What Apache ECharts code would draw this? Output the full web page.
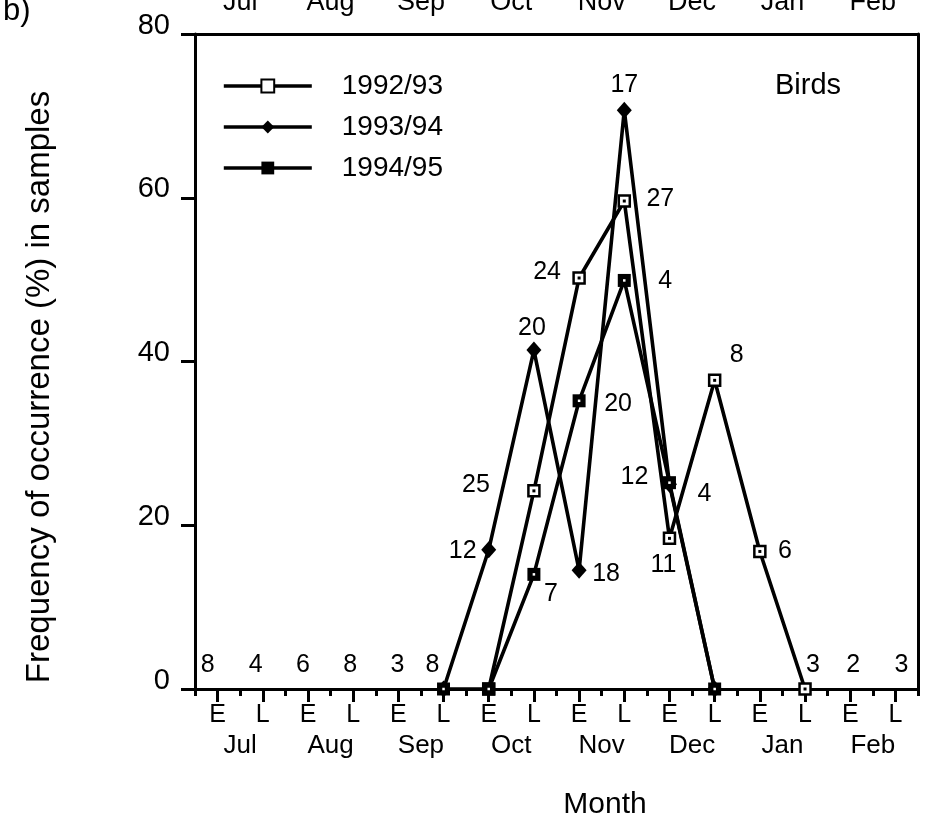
<!DOCTYPE html>
<html>
<head>
<meta charset="utf-8">
<script src="https://cdn.jsdelivr.net/npm/echarts@6/dist/echarts.min.js"></script>
<style>
  html, body { margin: 0; padding: 0; background: #fff; }
  #chart { width: 929px; height: 824px; }
</style>
</head>
<body>
<div id="chart"></div>
<script>
// Half-month sampling periods (Early / Late) from July to February
const periods = ['E', 'L', 'E', 'L', 'E', 'L', 'E', 'L', 'E', 'L', 'E', 'L', 'E', 'L', 'E', 'L'];
const months = ['Jul', 'Aug', 'Sep', 'Oct', 'Nov', 'Dec', 'Jan', 'Feb'];
const yTicks = [0, 20, 40, 60, 80];
const seasons = ['1992/93', '1993/94', '1994/95'];

// Frequency of occurrence (%) of birds in samples, per season
const freq9293 = [null, null, null, null, null, null, 0, 24.2, 50.2, 59.6, 18.4, 37.7, 16.8, 0, null, null];
const freq9394 = [null, null, null, null, null, 0, 17, 41.4, 14.5, 70.7, 25, 0, null, null, null, null];
const freq9495 = [null, null, null, null, null, 0, 0, 14, 35.2, 49.9, 25.2, 0, null, null, null, null];

// Number of samples written beside the points
const n9293 = [null, null, null, null, null, null, null, 25, 24, 27, 11, 8, 6, null, null, null];
const n9394 = [null, null, null, null, null, null, 12, 20, 18, 17, 4, null, null, null, null, null];
const n9495 = [null, null, null, null, null, null, null, 7, 20, 4, 12, null, null, null, null, null];

// Periods where birds were absent, with their sample counts
const absentFreq = [0, 0, 0, 0, 0, 0, null, null, null, null, null, null, null, 0, 0, 0];
const absentN = [8, 4, 6, 8, 3, 8, null, null, null, null, null, null, null, 3, 2, 3];

// Pixel shifts of the sample-count labels from their points
const labelShift = {
  '1992/93': { 7: [-58, -6], 8: [-32, -6], 9: [36, -2], 10: [-6, 27], 11: [22, -25], 12: [25, 0] },
  '1993/94': { 6: [-26, 1], 7: [-2, -22], 8: [27, 4], 9: [0, -25], 10: [35, 10] },
  '1994/95': { 7: [17, 20], 8: [39, 3], 9: [41, 1], 10: [-35, -6] }
};
const absentShift = { 0: -10, 1: -7, 2: -5, 3: -3, 4: -1, 5: -11, 13: 8, 14: 3, 15: 6 };

const FONT = '"Liberation Sans", Arial, Helvetica, sans-serif';
const INK = '#000';
const LINE_W = 3.6;

function withCounts(values, counts, shifts) {
  return values.map(function (v, i) {
    if (v == null) return null;
    const c = counts[i];
    return {
      value: v,
      label: c == null ? { show: false } : {
        show: true,
        formatter: String(c),
        offset: shifts[i] || [0, 0]
      }
    };
  });
}

const countLabel = {
  show: true,
  position: 'inside',
  color: INK,
  opacity: 1,
  textBorderWidth: 0,
  fontSize: 25,
  fontFamily: FONT
};

const chart = echarts.init(document.getElementById('chart'), null, { renderer: 'canvas' });

chart.setOption({
  animation: false,
  backgroundColor: '#fff',
  grid: { left: 195, right: 11, top: 34, bottom: 135, containLabel: false, outerBoundsMode: 'none' },
  legend: {
    data: seasons,
    orient: 'vertical',
    left: 222,
    top: 72,
    padding: 0,
    itemWidth: 88,
    itemHeight: 16,
    itemGap: 13,
    selectedMode: false,
    lineStyle: { width: LINE_W, color: INK },
    textStyle: { color: INK, fontSize: 28, fontFamily: FONT, lineHeight: 28, padding: [0, 0, 0, 25] }
  },
  xAxis: [
    {
      type: 'category', data: periods, position: 'bottom', boundaryGap: true,
      axisLine: { show: true, onZero: false, lineStyle: { color: INK, width: 3 } },
      axisTick: { show: true, alignWithLabel: true, length: 13, lineStyle: { color: INK, width: 3 } },
      axisLabel: { color: INK, fontSize: 25, fontFamily: FONT, margin: 14, interval: 0 },
      splitLine: { show: false }
    },
    {
      type: 'category', data: periods, position: 'bottom', boundaryGap: true,
      axisLine: { show: false, onZero: false },
      axisTick: { show: true, length: 7, interval: 0, lineStyle: { color: INK, width: 3 } },
      axisLabel: { show: false },
      splitLine: { show: false }
    },
    {
      type: 'category', data: months, position: 'bottom', boundaryGap: true,
      axisLine: { show: false, onZero: false },
      axisTick: { show: false },
      axisLabel: { color: INK, fontSize: 26, fontFamily: FONT, margin: 44, interval: 0 },
      splitLine: { show: false }
    },
    {
      type: 'category', data: months, position: 'top', boundaryGap: true,
      axisLine: { show: true, onZero: false, lineStyle: { color: INK, width: 3 } },
      axisTick: { show: false },
      axisLabel: { color: INK, fontSize: 27, fontFamily: FONT, margin: 18, interval: 0 },
      splitLine: { show: false }
    }
  ],
  yAxis: [
    {
      type: 'value', min: yTicks[0], max: yTicks[yTicks.length - 1], interval: 20,
      axisLine: { show: true, onZero: false, lineStyle: { color: INK, width: 3 } },
      axisTick: { show: true, length: 14, lineStyle: { color: INK, width: 3 } },
      axisLabel: { color: INK, fontSize: 29, fontFamily: FONT, margin: 25, verticalAlign: 'bottom', lineHeight: 17 },
      splitLine: { show: false }
    },
    {
      type: 'value', min: yTicks[0], max: yTicks[yTicks.length - 1], interval: 20, position: 'right',
      axisLine: { show: true, onZero: false, lineStyle: { color: INK, width: 3 } },
      axisTick: { show: false },
      axisLabel: { show: false },
      splitLine: { show: false }
    }
  ],
  series: [
    {
      name: '1992/93', type: 'line', xAxisIndex: 0, yAxisIndex: 0,
      data: withCounts(freq9293, n9293, labelShift['1992/93']),
      symbol: 'rect', symbolSize: 11, showAllSymbol: true,
      lineStyle: { color: INK, width: LINE_W },
      itemStyle: { color: '#fff', borderColor: INK, borderWidth: 2.5 },
      label: countLabel,
      z: 3
    },
    {
      name: '1993/94', type: 'line', xAxisIndex: 0, yAxisIndex: 0,
      data: withCounts(freq9394, n9394, labelShift['1993/94']),
      symbol: 'diamond', symbolSize: [15, 17], showAllSymbol: true,
      lineStyle: { color: INK, width: LINE_W },
      itemStyle: { color: INK },
      label: countLabel,
      z: 3
    },
    {
      name: '1994/95', type: 'line', xAxisIndex: 0, yAxisIndex: 0,
      data: withCounts(freq9495, n9495, labelShift['1994/95']),
      symbol: 'rect', symbolSize: 13, showAllSymbol: true,
      lineStyle: { color: INK, width: LINE_W },
      itemStyle: { color: INK },
      label: countLabel,
      z: 3
    },
    {
      // centre dot of the open squares
      name: 'dot9293', type: 'scatter', xAxisIndex: 0, yAxisIndex: 0,
      data: freq9293, symbol: 'rect', symbolSize: 3,
      itemStyle: { color: INK, opacity: 1 }, silent: true, z: 4
    },
    {
      // centre dot of the filled squares
      name: 'dot9495', type: 'scatter', xAxisIndex: 0, yAxisIndex: 0,
      data: freq9495, symbol: 'rect', symbolSize: 2.5,
      itemStyle: { color: '#fff', opacity: 1 }, silent: true, z: 4
    },
    {
      // sample counts of periods without birds
      name: 'absent', type: 'scatter', xAxisIndex: 0, yAxisIndex: 0,
      data: absentFreq.map(function (v, i) {
        if (v == null) return null;
        return { value: v, label: { formatter: String(absentN[i]), offset: [absentShift[i] || 0, -24] } };
      }),
      symbol: 'rect', symbolSize: 1,
      itemStyle: { color: 'rgba(0,0,0,0)', opacity: 1 },
      label: countLabel,
      silent: true, z: 2
    }
  ],
  graphic: [
    {
      type: 'text', left: 3, top: -4,
      style: { text: 'b)', fill: INK, font: '31px ' + FONT }
    },
    {
      type: 'text', x: 775, y: 86,
      style: { text: 'Birds', fill: INK, font: '29px ' + FONT, textAlign: 'left', textVerticalAlign: 'middle' }
    },
    {
      type: 'text', x: 40, y: 387, rotation: Math.PI / 2,
      style: { text: 'Frequency of occurrence (%) in samples', fill: INK, font: '33px ' + FONT, textAlign: 'center', textVerticalAlign: 'middle' }
    },
    {
      type: 'text', x: 605, y: 805,
      style: { text: 'Month', fill: INK, font: '30px ' + FONT, textAlign: 'center', textVerticalAlign: 'middle' }
    }
  ]
});
</script>
</body>
</html>
